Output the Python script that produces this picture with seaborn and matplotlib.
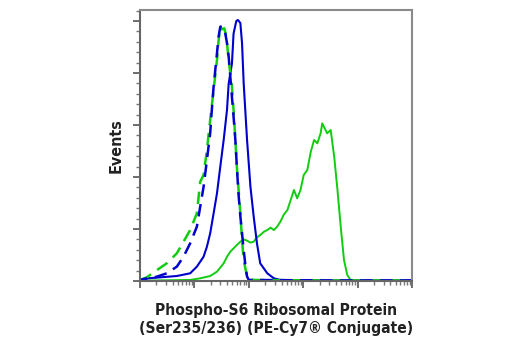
import numpy as np
import pandas as pd
import matplotlib
matplotlib.use("Agg")
import matplotlib.pyplot as plt
import seaborn as sns
from matplotlib.ticker import LogLocator, MultipleLocator, NullFormatter

# Fluorescence intensity in decades (log10) and event counts for each histogram
blue_solid_dec = [0, 0.154, 0.677, 0.922, 1.045, 1.169, 1.23, 1.29, 1.353, 1.415, 1.476, 1.538,
                  1.599, 1.63, 1.69, 1.72, 1.77, 1.80, 1.845, 1.876, 1.906, 1.968, 2.03, 2.09,
                  2.15, 2.21, 2.34, 2.46, 2.58, 3.5, 5.0]
blue_solid_cnt = [1, 2.6, 4.8, 7.4, 13.8, 23.4, 33, 45.8, 65, 84.3, 110, 135.6,
                  164.4, 190, 209, 238, 250, 251, 248, 228.5, 190, 135.6, 90.7, 61.9,
                  36.2, 17, 7.4, 2.6, 1, 0.5, 0.5]

blue_dash_dec = [0, 0.123, 0.3, 0.492, 0.677, 0.80, 0.922, 1.045, 1.107, 1.169, 1.23, 1.29, 1.32,
                 1.353, 1.384, 1.415, 1.445, 1.476, 1.507, 1.538, 1.568, 1.60, 1.63, 1.66,
                 1.69, 1.72, 1.753, 1.78, 1.81, 1.845, 1.876, 1.906, 1.94, 1.968, 2.0, 3.5, 5.0]
blue_dash_cnt = [1, 2.5, 4, 7.4, 13.8, 23.4, 36.2, 52.2, 71.5, 90.7, 116.3, 142, 164.4,
                 186.9, 203, 219, 235, 244.5, 245, 241, 238, 228.5, 215.7, 196.5,
                 177, 158, 135.6, 110, 84.3, 61.9, 45.8, 29.8, 13.8, 4.2, 1, 0.5, 0.5]

green_dash_dec = [0, 0.123, 0.314, 0.492, 0.677, 0.80, 0.922, 1.045, 1.107, 1.169, 1.23, 1.29,
                  1.353, 1.415, 1.445, 1.476, 1.507, 1.55, 1.587, 1.63, 1.69, 1.72, 1.753,
                  1.78, 1.845, 1.876, 1.906, 1.968, 2.09, 3.5, 5.0]
green_dash_cnt = [1, 3.5, 10.6, 17, 26.6, 37.8, 49, 65, 95.5, 102, 126, 154.8,
                  183.6, 212.5, 231.7, 244.5, 242, 243, 235, 212.5, 186.9, 164.4, 135.6,
                  110, 65, 39.4, 20, 4.2, 1, 0.5, 0.5]

green_solid_dec = [0, 0.922, 1.107, 1.29, 1.415, 1.538, 1.60, 1.66, 1.72, 1.78, 1.845, 1.906,
                   1.968, 2.03, 2.09, 2.15, 2.21, 2.28, 2.34, 2.40, 2.46, 2.52, 2.58, 2.64,
                   2.71, 2.77, 2.83, 2.89, 2.95, 3.01, 3.075, 3.14, 3.20, 3.26, 3.32, 3.35,
                   3.38, 3.44, 3.505, 3.57, 3.63, 3.69, 3.75, 3.81, 3.87, 3.94, 5.0]
green_solid_cnt = [0.3, 1, 2.6, 4.8, 9, 17, 23.4, 28.2, 31.4, 34.6, 37.8, 40,
                   38.8, 36.9, 37.8, 42, 44.2, 47.4, 49, 51.3, 49, 52.2, 57, 63.5,
                   68.3, 77.9, 87.5, 79.5, 87.5, 102, 106.7, 124.4, 135.6, 132.4, 142, 151.6,
                   148.4, 142, 145.2, 119.5, 87.5, 52.2, 20.2, 5.8, 1, 0.3, 0.3]

BLUE = "#0000CC"
GREEN = "#11CC11"


def frame(dec, cnt, name):
    return pd.DataFrame({"intensity": 10 ** np.asarray(dec, dtype=float),
                         "events": np.asarray(cnt, dtype=float),
                         "sample": name})


sns.set_theme(style="white")
plt.rcParams["font.family"] = ["DejaVu Sans"]
plt.rcParams["font.stretch"] = "condensed"

fig = plt.figure(figsize=(5.2, 3.5), dpi=100)
ax = fig.add_axes([140 / 520, 69 / 350, 272 / 520, 271 / 350])

sns.lineplot(data=frame(green_solid_dec, green_solid_cnt, "gs"), x="intensity", y="events",
             color=GREEN, lw=1.4, ax=ax, estimator=None, sort=False)
sns.lineplot(data=frame(blue_solid_dec, blue_solid_cnt, "bs"), x="intensity", y="events",
             color=BLUE, lw=1.5, ax=ax, estimator=None, sort=False)
sns.lineplot(data=frame(green_dash_dec, green_dash_cnt, "gd"), x="intensity", y="events",
             color=GREEN, lw=1.8, ax=ax, estimator=None, sort=False,
             linestyle=(0, (5, 3)))
sns.lineplot(data=frame(blue_dash_dec, blue_dash_cnt, "bd"), x="intensity", y="events",
             color=BLUE, lw=1.8, ax=ax, estimator=None, sort=False,
             linestyle=(2, (5, 3)))

ax.set_xscale("log")
ax.set_xlim(1, 1e5)
ax.set_ylim(0, 260.6)

ax.xaxis.set_major_locator(LogLocator(base=10, numticks=10))
ax.xaxis.set_minor_locator(LogLocator(base=10, subs=np.arange(2, 10), numticks=10))
ax.xaxis.set_major_formatter(NullFormatter())
ax.xaxis.set_minor_formatter(NullFormatter())
ax.yaxis.set_major_locator(MultipleLocator(50))
ax.yaxis.set_minor_locator(MultipleLocator(10))
ax.yaxis.set_major_formatter(NullFormatter())

ax.tick_params(axis="both", which="major", direction="out", length=5, width=1.2,
               color="#555555", bottom=True, left=True)
ax.tick_params(axis="both", which="minor", direction="out", length=3, width=1.0,
               color="#777777", bottom=True, left=True)

for side in ["left", "bottom"]:
    ax.spines[side].set_color("#666666")
    ax.spines[side].set_linewidth(1.5)
for side in ["top", "right"]:
    ax.spines[side].set_color("#8a8a8a")
    ax.spines[side].set_linewidth(1.5)

ax.set_ylabel("Events", fontsize=11.5, fontweight="bold", color="#222222", labelpad=3)
ax.set_xlabel("Phospho-S6 Ribosomal Protein\n(Ser235/236) (PE-Cy7® Conjugate)",
              fontsize=11.2, fontweight="bold", color="#222222", labelpad=7,
              linespacing=1.3)

fig.savefig("out.png", dpi=100)
